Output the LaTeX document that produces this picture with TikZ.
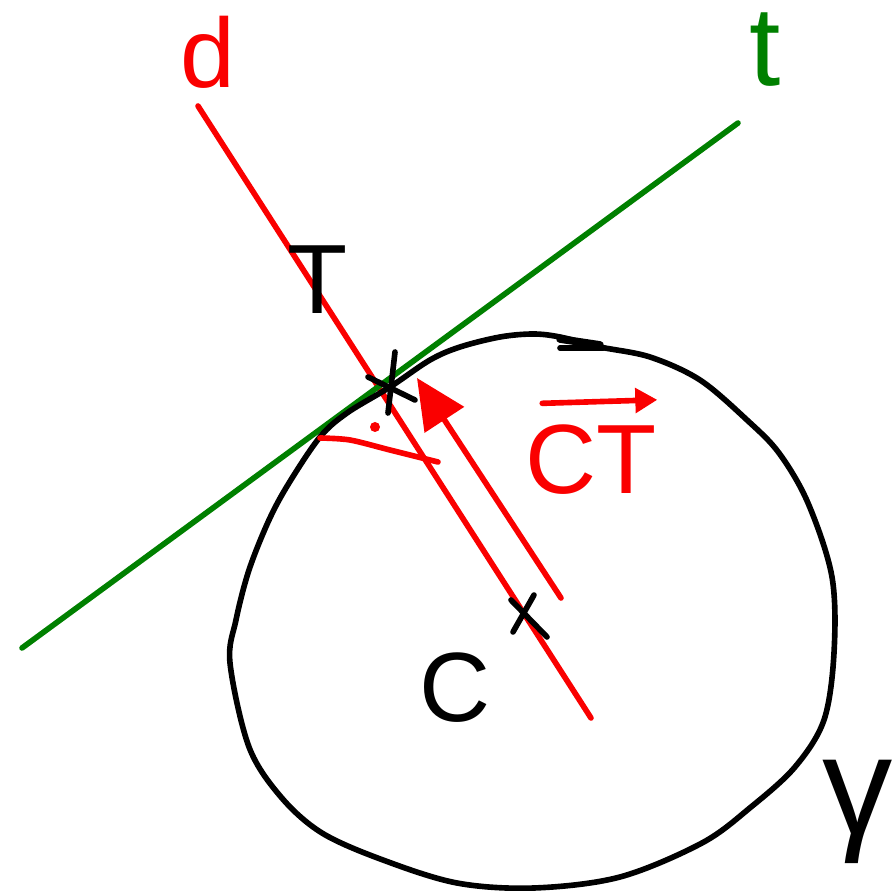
\documentclass[tikz,border=0pt]{standalone}
\usepackage{fontspec}
\setmainfont{Liberation Sans}
\usetikzlibrary{arrows.meta}
\definecolor{penred}{RGB}{250,0,0}
\definecolor{pengreen}{RGB}{0,128,0}

\begin{document}
\begin{tikzpicture}[x=0.01cm,y=-0.01cm,
  pen/.style={line width=1.6pt,line cap=round,line join=round},
  lbl/.style={inner sep=0pt,font=\fontsize{28}{30}\selectfont},
]
  \useasboundingbox (0,0) rectangle (893,891);
  % the lines d and t
  \coordinate (dA) at (198,106);
  \coordinate (dB) at (591,718);
  \coordinate (tA) at (22,648);
  \coordinate (tB) at (738,123);
  \draw[pen,penred] (dA) -- (dB);
  \draw[pen,pengreen] (tA) -- (tB);
  % the circle gamma, drawn by hand
  \draw[pen] plot[smooth cycle,tension=0.55] coordinates {
    (500,337) (533,334) (560,337) (600,347) (650,357) (700,380) (747,420)
    (779,453) (808,503) (832,577) (834,653) (824,720) (795,767) (751,807)
    (702,843) (620,877) (534,888) (457,883) (383,860) (322,833) (281,797)
    (249,747) (230,663) (236,620) (249,570) (269,520) (289,483) (320,437)
    (347,413) (390,387) (430,360) (460,347)};
  \draw[pen,line width=2.2pt] (560,339) -- (600,345);
  \draw[pen] (560,348) -- (603,348);
  % points T and C
  \draw[pen] (368,377) -- (415,400);
  \draw[pen] (395,352) -- (388,413);
  \draw[pen] (534,595) -- (513,632);
  \draw[pen] (511,600) -- (547,637);
  % right angle mark
  \draw[pen,penred] plot[smooth,tension=0.5] coordinates {(320,438) (350,440) (390,450) (438,462)};
  \fill[penred] (375,427) circle[radius=5];
  % vector CT
  \coordinate (vA) at (561,598);
  \coordinate (vB) at (417,378);
  \draw[pen,penred,-{Triangle[length=5mm,width=4.6mm]}] (vA) -- (vB);
  % labels
  \node[lbl,penred] (dlbl) at (208,52) {d};
  \node[lbl,pengreen,font=\fontsize{32}{34}\selectfont] (tlbl) at (765,50) {t};
  \node[lbl] (Tlbl) at (318,280) {T};
  \node[lbl] (Clbl) at (455,688) {C};
  \node[lbl,penred] (CTlbl) at (591,460) {CT};
  \draw[pen,penred,-{Triangle[length=2.2mm,width=2.4mm]}]
    ([shift={(5pt,6pt)}]CTlbl.north west) -- ([shift={(0pt,7pt)}]CTlbl.north east);
  \node[lbl,font=\fontsize{40}{42}\selectfont] (glbl) at (858,812) {γ};
\end{tikzpicture}
\end{document}
